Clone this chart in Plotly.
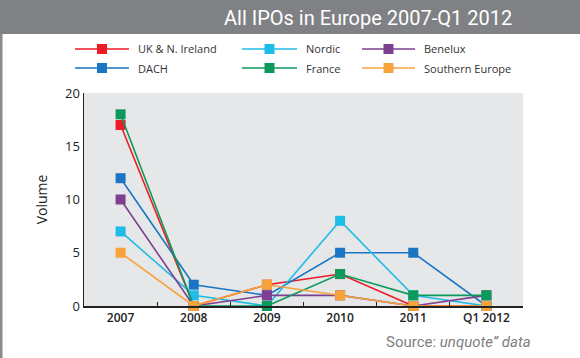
import plotly.graph_objects as go

categories = ["2007", "2008", "2009", "2010", "2011", "Q1 2012"]
uk = [17, 0, 2, 3, 0, 0]
dach = [12, 2, 1, 5, 5, 0]
nordic = [7, 1, 0, 8, 1, 0]
benelux = [10, 0, 1, 1, 0, 1]
france = [18, 0, 0, 3, 1, 1]
southern = [5, 0, 2, 1, 0, 0]

names = ["UK & N. Ireland", "DACH", "Nordic", "Benelux", "France", "Southern Europe"]
values = [uk, dach, nordic, benelux, france, southern]
colors = ["#ed1c24", "#1a75c4", "#1fbce6", "#7d3f8f", "#0b9a5c", "#f7a33b"]

# plot area in pixels
L, R, T, B = 84, 523, 93, 306
W, H = R - L, B - T


def px(x):
    return (x - L) / W


def py(y):
    return (B - y) / H


fig = go.Figure()
for name, vals, color in zip(names, values, colors):
    fig.add_trace(go.Scatter(
        x=categories, y=vals, name=name, mode="lines+markers",
        line=dict(color=color, width=1.6),
        marker=dict(symbol="square", size=10, color=color),
        cliponaxis=False, showlegend=False, hoverinfo="skip",
    ))

font_main = "Open Sans"
shapes = [
    dict(type="rect", xref="paper", yref="paper", x0=px(-5), x1=px(590),
         y0=py(34), y1=py(-5), fillcolor="#808184", line=dict(width=0)),
    dict(type="line", xref="paper", yref="paper", x0=px(1), x1=px(1),
         y0=py(365), y1=py(34), line=dict(color="#8a8b8d", width=3)),
]
annotations = [
    dict(text="All IPOs in Europe 2007-Q1 2012", xref="paper", yref="paper",
         x=px(514), y=py(18), xanchor="right", yanchor="middle", showarrow=False,
         font=dict(family="Roboto", size=20, color="white")),
    dict(text="Source: <i>unquote\u201d data</i>", xref="paper", yref="paper",
         x=px(533), y=py(342), xanchor="right", yanchor="middle", showarrow=False,
         font=dict(family="Roboto", size=15, color="#808080")),
]

# manual legend layout: (line x0, line x1, text x, row y)
legend_pos = {
    "UK & N. Ireland": (75, 129, 136, 49),
    "Nordic": (242, 297, 304, 49),
    "Benelux": (362, 415, 422, 49),
    "DACH": (75, 129, 136, 68),
    "France": (242, 297, 304, 68),
    "Southern Europe": (362, 415, 422, 68),
}
for name, color in zip(names, colors):
    x0, x1, tx, y = legend_pos[name]
    cx = (x0 + x1) / 2
    shapes.append(dict(type="line", xref="paper", yref="paper",
                       x0=px(x0), x1=px(x1), y0=py(y), y1=py(y),
                       line=dict(color=color, width=1.6)))
    shapes.append(dict(type="rect", xref="paper", yref="paper",
                       x0=px(cx - 5), x1=px(cx + 5), y0=py(y + 5), y1=py(y - 5),
                       fillcolor=color, line=dict(width=0)))
    annotations.append(dict(text=name, xref="paper", yref="paper", x=px(tx), y=py(y),
                            xanchor="left", yanchor="middle", showarrow=False,
                            font=dict(family=font_main, size=11, color="#333")))

fig.update_layout(
    width=580, height=358,
    margin=dict(l=L, r=580 - R, t=T, b=358 - B, autoexpand=False),
    paper_bgcolor="white", plot_bgcolor="#e6e7e8",
    showlegend=False,
    xaxis=dict(type="category", range=[-0.5, 5.5], showgrid=False,
               showline=True, linecolor="#222", linewidth=1.5,
               ticks="inside", tickson="boundaries", ticklen=4, tickcolor="#222",
               tickfont=dict(family=font_main, size=12, color="#222", weight=600),
               zeroline=False),
    yaxis=dict(range=[0, 20], tickvals=[0, 5, 10, 15, 20], showgrid=False,
               showline=True, linecolor="#222", linewidth=1.5, zeroline=False,
               ticks="", tickfont=dict(family=font_main, size=13, color="#222"),
               title=dict(text="Volume", font=dict(family=font_main, size=14, color="#222"),
                          standoff=14)),
    shapes=shapes,
    annotations=annotations,
)

fig.write_html("out.html", config={"displayModeBar": False, "staticPlot": True},
               post_script="document.body.style.margin='0';document.body.style.padding='0';")
